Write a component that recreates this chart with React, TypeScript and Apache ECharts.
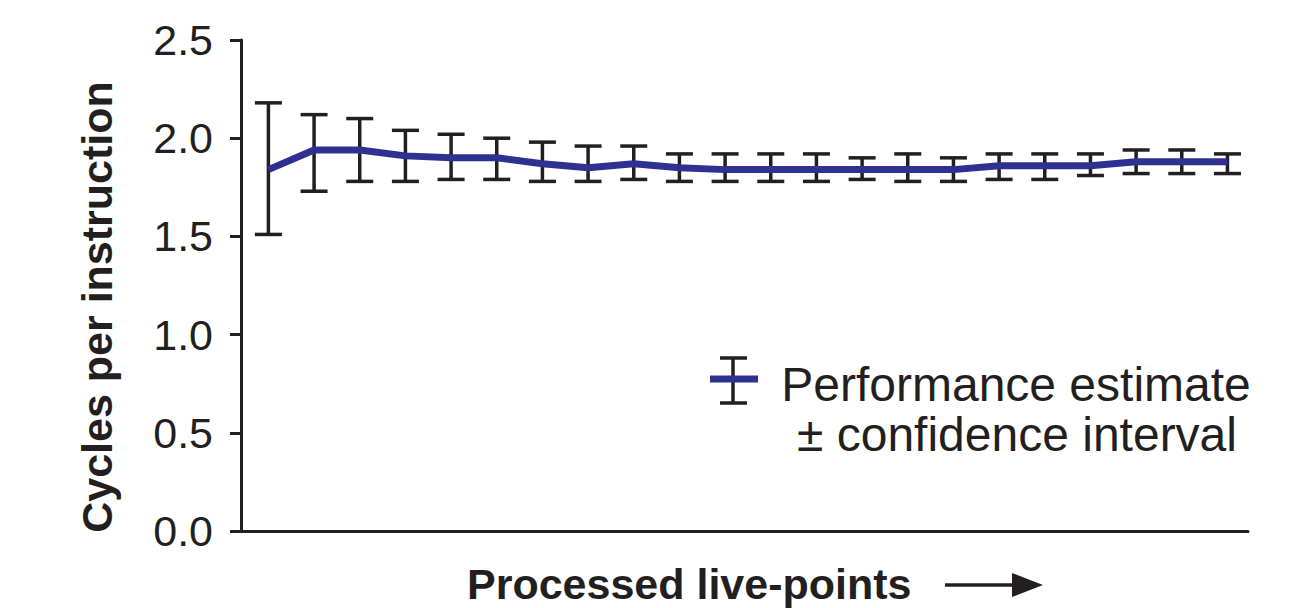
import React, { useEffect, useRef } from "react";
import * as echarts from "echarts";

const pointIndex = [0, 1, 2, 3, 4, 5, 6, 7, 8, 9, 10, 11, 12, 13, 14, 15, 16, 17, 18, 19, 20, 21];
const estimate = [1.84, 1.94, 1.94, 1.91, 1.9, 1.9, 1.87, 1.85, 1.87, 1.85, 1.84, 1.84, 1.84, 1.84, 1.84, 1.84, 1.86, 1.86, 1.86, 1.88, 1.88, 1.88];
const upper = [2.18, 2.12, 2.1, 2.04, 2.02, 2.0, 1.98, 1.96, 1.96, 1.92, 1.92, 1.92, 1.92, 1.9, 1.92, 1.9, 1.92, 1.92, 1.92, 1.94, 1.94, 1.92];
const lower = [1.51, 1.73, 1.78, 1.78, 1.79, 1.79, 1.78, 1.78, 1.79, 1.78, 1.78, 1.78, 1.78, 1.79, 1.78, 1.78, 1.79, 1.79, 1.81, 1.82, 1.82, 1.82];
const yTicks = [0, 0.5, 1.0, 1.5, 2.0, 2.5];

const INK = "#231f20";
const BLUE = "#2e3192";
const FONT = "Liberation Sans, Arial, Helvetica, sans-serif";

export default function App() {
  const ref = useRef<HTMLDivElement>(null);
  useEffect(() => {
    if (!ref.current) return;
    const chart = echarts.init(ref.current, undefined, { renderer: "svg" });
    const capHalf = 13.5;
    chart.setOption({
      animation: false,
      backgroundColor: "#ffffff",
      grid: { left: 241, right: 60, top: 40, bottom: 77, containLabel: false },
      xAxis: {
        type: "value",
        min: -0.6,
        max: 21.45,
        axisLine: { show: true, onZero: false, lineStyle: { color: INK, width: 3 } },
        axisTick: { show: false },
        axisLabel: { show: false },
        splitLine: { show: false },
      },
      yAxis: {
        type: "value",
        min: yTicks[0],
        max: yTicks[yTicks.length - 1],
        interval: 0.5,
        axisLine: { show: true, onZero: false, lineStyle: { color: INK, width: 3 } },
        axisTick: { show: true, length: 11, lineStyle: { color: INK, width: 3 } },
        axisLabel: {
          show: true,
          margin: 28,
          color: INK,
          fontSize: 43,
          fontFamily: FONT,
          formatter: (v: number) => v.toFixed(1),
        },
        splitLine: { show: false },
      },
      series: [
        {
          type: "custom",
          z: 2,
          encode: { x: 0, y: [1, 2] },
          data: pointIndex.map((i) => [i, lower[i], upper[i]]),
          renderItem: (params: any, api: any) => {
            const x = api.value(0);
            const lo = api.coord([x, api.value(1)]);
            const hi = api.coord([x, api.value(2)]);
            const style = { stroke: INK, lineWidth: 3.5 };
            return {
              type: "group",
              children: [
                { type: "line", shape: { x1: lo[0], y1: lo[1], x2: hi[0], y2: hi[1] }, style },
                { type: "line", shape: { x1: lo[0] - capHalf, y1: lo[1], x2: lo[0] + capHalf, y2: lo[1] }, style },
                { type: "line", shape: { x1: hi[0] - capHalf, y1: hi[1], x2: hi[0] + capHalf, y2: hi[1] }, style },
              ],
            };
          },
        },
        {
          type: "line",
          z: 3,
          data: pointIndex.map((i) => [i, estimate[i]]),
          showSymbol: false,
          symbol: "none",
          lineStyle: { color: BLUE, width: 7 },
        },
      ],
      graphic: [
        // legend glyph
        { type: "line", shape: { x1: 733, y1: 358, x2: 733, y2: 403 }, style: { stroke: INK, lineWidth: 3.5 } },
        { type: "line", shape: { x1: 720, y1: 358, x2: 747, y2: 358 }, style: { stroke: INK, lineWidth: 3.5 } },
        { type: "line", shape: { x1: 720, y1: 403, x2: 747, y2: 403 }, style: { stroke: INK, lineWidth: 3.5 } },
        { type: "line", shape: { x1: 710, y1: 379, x2: 758, y2: 379 }, style: { stroke: BLUE, lineWidth: 7 } },
        {
          type: "text",
          x: 1016,
          y: 384,
          style: { text: "Performance estimate", fill: INK, fontSize: 48, fontFamily: FONT, align: "center", verticalAlign: "middle" },
        },
        {
          type: "text",
          x: 1017,
          y: 434,
          style: { text: "± confidence interval", fill: INK, fontSize: 48, fontFamily: FONT, align: "center", verticalAlign: "middle" },
        },
        // axis titles
        {
          type: "text",
          x: 97,
          y: 307,
          rotation: Math.PI / 2,
          style: { text: "Cycles per instruction", fill: INK, fontSize: 43, fontWeight: "bold", fontFamily: FONT, align: "center", verticalAlign: "middle" },
        },
        {
          type: "text",
          x: 467,
          y: 584,
          style: { text: "Processed live-points", fill: INK, fontSize: 43, fontWeight: "bold", fontFamily: FONT, align: "left", verticalAlign: "middle" },
        },
        { type: "line", shape: { x1: 945, y1: 585, x2: 1015, y2: 585 }, style: { stroke: INK, lineWidth: 3.5 } },
        { type: "polygon", shape: { points: [[1012, 573], [1043, 585], [1012, 597]] }, style: { fill: INK } },
      ],
    });
    return () => chart.dispose();
  }, []);
  return (
    <div
      ref={ref}
      style={{ position: "fixed", left: 0, top: 0, width: 1308, height: 608, background: "#fff" }}
    />
  );
}
